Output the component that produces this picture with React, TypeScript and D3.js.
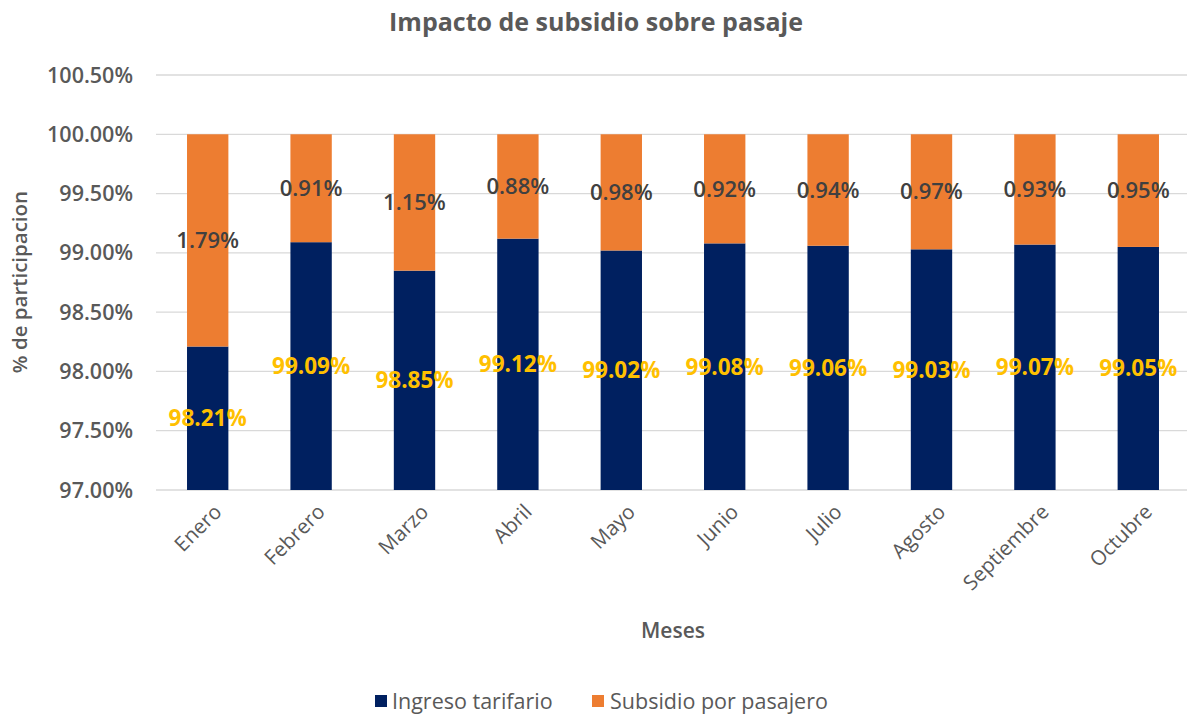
import React from "react";
import * as d3 from "d3";

const months = ["Enero", "Febrero", "Marzo", "Abril", "Mayo", "Junio", "Julio", "Agosto", "Septiembre", "Octubre"];
const ingreso = [98.21, 99.09, 98.85, 99.12, 99.02, 99.08, 99.06, 99.03, 99.07, 99.05];
const subsidio = [1.79, 0.91, 1.15, 0.88, 0.98, 0.92, 0.94, 0.97, 0.93, 0.95];
const yTicks = [97, 97.5, 98, 98.5, 99, 99.5, 100, 100.5];
const seriesNames = ["Ingreso tarifario", "Subsidio por pasajero"];

const W = 1187;
const H = 715;
const left = 156;
const right = 1190;
const top = 75;
const bottom = 490;
const navy = "#002060";
const orange = "#ED7D31";
const gray = "#595959";
const font = "'Open Sans', 'Noto Sans', sans-serif";

export default function App() {
  const x = d3.scaleBand().domain(months).range([left, right]).paddingInner(0.6).paddingOuter(0.3);
  const y = d3.scaleLinear().domain([97, 100.5]).range([bottom, top]);
  const fmt = (v: number) => v.toFixed(2) + "%";

  return (
    <svg width={W} height={H} style={{ position: "absolute", left: 0, top: 0, background: "#fff" }} fontFamily={font}>
      <text x={596} y={31} textAnchor="middle" fontSize={25} fontWeight={700} fill={gray}>
        Impacto de subsidio sobre pasaje
      </text>
      {yTicks.map((t) => (
        <g key={t}>
          <line x1={left} x2={right} y1={y(t)} y2={y(t)} stroke="#D9D9D9" strokeWidth={1.3} />
          <text x={133} y={y(t)} dy="0.35em" textAnchor="end" fontSize={21.5} fontWeight={600} fill={gray}>
            {t.toFixed(2)}%
          </text>
        </g>
      ))}
      {months.map((m, i) => {
        const bx = x(m)!;
        const bw = x.bandwidth();
        const cx = bx + bw / 2;
        const total = ingreso[i] + subsidio[i];
        return (
          <g key={m}>
            <rect x={bx} y={y(ingreso[i])} width={bw} height={y(97) - y(ingreso[i])} fill={navy} />
            <rect x={bx} y={y(total)} width={bw} height={y(ingreso[i]) - y(total)} fill={orange} />
            <text x={cx} y={y((97 + ingreso[i]) / 2)} dy="0.35em" textAnchor="middle" fontSize={22.5} fontWeight={700} fill="#FFC000">
              {fmt(ingreso[i])}
            </text>
            <text x={cx} y={y((ingreso[i] + total) / 2)} dy="0.35em" textAnchor="middle" fontSize={22} fontWeight={600} fill="#404040">
              {fmt(subsidio[i])}
            </text>
            <text
              transform={`translate(${cx + 5},${bottom + 13}) rotate(-45)`}
              textAnchor="end"
              dy="0.7em"
              fontSize={20.5}
              fontWeight={500}
              fill={gray}
            >
              {m}
            </text>
          </g>
        );
      })}
      <text x={673} y={638} textAnchor="middle" fontSize={21} fontWeight={600} fill={gray}>
        Meses
      </text>
      <text transform={`translate(27,282) rotate(-90)`} textAnchor="middle" fontSize={20.5} fontWeight={600} fill={gray}>
        % de participacion
      </text>
      <g>
        <rect x={375} y={695} width={12} height={12} fill={navy} />
        <text x={392} y={701} dy="0.35em" fontSize={21.5} fontWeight={500} fill={gray}>
          {seriesNames[0]}
        </text>
        <rect x={592} y={695} width={12} height={12} fill={orange} />
        <text x={610} y={701} dy="0.35em" fontSize={21.5} fontWeight={500} fill={gray}>
          {seriesNames[1]}
        </text>
      </g>
    </svg>
  );
}
